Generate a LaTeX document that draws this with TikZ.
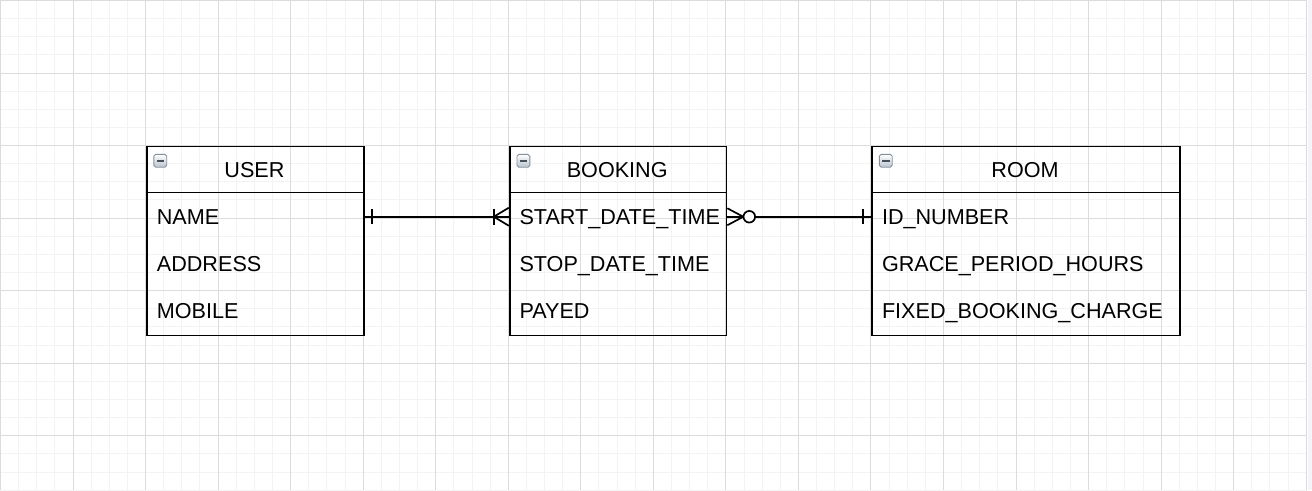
\documentclass[tikz,border=0pt]{standalone}
\usepackage{fontspec}
\setmainfont{Liberation Sans}
\usetikzlibrary{calc}
\definecolor{gridmajor}{HTML}{DCDCDC}
\definecolor{gridminor}{HTML}{F3F3F3}
\definecolor{iconfill}{HTML}{B8C3CE}
\definecolor{iconedge}{HTML}{858F9A}
\definecolor{icondash}{HTML}{4A4F55}
\definecolor{sidestrip}{HTML}{F3F5F8}
\begin{document}
\begin{tikzpicture}[x=1pt,y=-1pt,
  tablebox/.style={draw=black, line width=1.8pt, rectangle, anchor=north west, inner sep=0pt, minimum height=189pt},
  sepline/.style={draw=black, line width=1.8pt},
  hdr/.style={anchor=base, inner sep=0pt, font=\fontsize{21.6}{26}\selectfont},
  attr/.style={anchor=base west, inner sep=0pt, text height=15.5pt, text depth=0pt, font=\fontsize{21.6}{26}\selectfont},
  conn/.style={draw=black, line width=1.7pt},
  icon/.style={rectangle, rounded corners=1.8pt, minimum size=12.8pt, inner sep=0pt, draw=iconedge, line width=0.9pt,
    top color=white, bottom color=iconfill,
    path picture={\draw[icondash, line width=2pt] ([xshift=-3.8pt]path picture bounding box.center) -- ([xshift=3.8pt]path picture bounding box.center);}}
]
\useasboundingbox (0,0) rectangle (1312,490);
\fill[white] (0,0) rectangle (1312,490);
% grid
\foreach \i in {0,...,72} {\pgfmathsetmacro\xx{\i*18.135+0.5}\draw[gridminor, line width=1pt] (\xx,0) -- (\xx,490);}
\foreach \i in {0,...,27} {\pgfmathsetmacro\yy{\i*18.135+0.5}\draw[gridminor, line width=1pt] (0,\yy) -- (1307,\yy);}
\foreach \i in {0,...,18} {\pgfmathsetmacro\xx{\i*72.54+0.5}\draw[gridmajor, line width=1pt] (\xx,0) -- (\xx,490);}
\foreach \i in {0,...,6} {\pgfmathsetmacro\yy{\i*72.54+0.5}\draw[gridmajor, line width=1pt] (0,\yy) -- (1307,\yy);}
\fill[sidestrip] (1307.5,0) rectangle (1312,490);

% USER
\node[tablebox, minimum width=217.6pt] (user) at (145.7,145.5) {};
\draw[sepline] ([yshift=-47pt]user.north west) -- ([yshift=-47pt]user.north east);
\node[icon] (uicon) at (160.3,160.8) {};
\node[hdr] (uhdr) at (254.5,177.7) {USER};
\node[attr] (uname) at (156.7,224.5) {NAME};
\node[attr] (uaddr) at (156.7,271.7) {ADDRESS};
\node[attr] (umob) at (156.7,318.7) {MOBILE};

% BOOKING
\node[tablebox, minimum width=216.7pt] (booking) at (508.8,145.5) {};
\draw[sepline] ([yshift=-47pt]booking.north west) -- ([yshift=-47pt]booking.north east);
\node[icon] (bicon) at (523.4,160.8) {};
\node[hdr] (bhdr) at (617.2,177.7) {BOOKING};
\node[attr] (bstart) at (519.3,224.5) {START\_DATE\_TIME};
\node[attr] (bstop) at (519.3,271.7) {STOP\_DATE\_TIME};
\node[attr] (bpay) at (519.3,318.7) {PAYED};

% ROOM
\node[tablebox, minimum width=307.6pt] (room) at (871.2,145.5) {};
\draw[sepline] ([yshift=-47pt]room.north west) -- ([yshift=-47pt]room.north east);
\node[icon] (ricon) at (885.8,160.8) {};
\node[hdr] (rhdr) at (1025,177.7) {ROOM};
\node[attr] (rid) at (881.8,224.5) {ID\_NUMBER};
\node[attr] (rgrace) at (881.8,271.7) {GRACE\_PERIOD\_HOURS};
\node[attr] (rfixed) at (881.8,318.7) {FIXED\_BOOKING\_CHARGE};

% connector USER -- BOOKING (one to one-or-many)
\coordinate (a1) at (user.east |- uname.center);
\coordinate (b1) at (booking.west |- bstart.center);
\draw[conn] (a1) -- (b1);
\draw[conn] ($(a1)+(7,-7.5)$) -- ($(a1)+(7,7.5)$);
\draw[conn] ($(b1)+(-15,-8)$) -- ($(b1)+(-15,8)$);
\draw[conn] ($(b1)+(0,-9)$) -- ($(b1)+(-15,0)$) -- ($(b1)+(0,9)$);

% connector BOOKING -- ROOM (zero-or-many to one)
\coordinate (a2) at (booking.east |- bstart.center);
\coordinate (b2) at (room.west |- rid.center);
\draw[conn] (a2) -- (b2);
\draw[conn] ($(a2)+(0,-8.5)$) -- ($(a2)+(16,0)$) -- ($(a2)+(0,8.5)$);
\draw[conn, fill=white] ($(a2)+(22,0)$) circle[radius=5.8pt];
\draw[conn] ($(b2)+(-8,-7.5)$) -- ($(b2)+(-8,7.5)$);
\end{tikzpicture}
\end{document}
